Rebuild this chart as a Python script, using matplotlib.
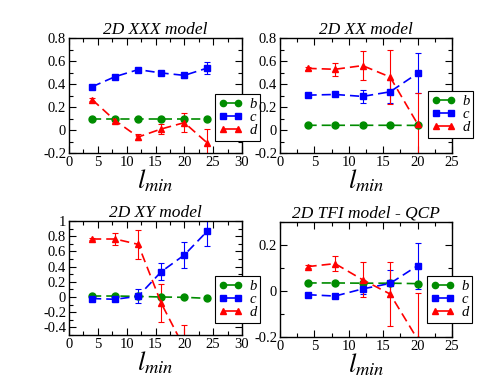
import matplotlib
matplotlib.use("Agg")
import matplotlib.pyplot as plt
from matplotlib.lines import Line2D
from matplotlib.ticker import MultipleLocator, FuncFormatter

plt.rcParams['font.family'] = ['Liberation Serif', 'DejaVu Serif']
plt.rcParams['mathtext.fontset'] = 'stix'
plt.rcParams['axes.unicode_minus'] = False

# ---------------- data ----------------
x_xxx = [4, 8, 12, 16, 20, 24]
b_xxx = [0.10, 0.10, 0.10, 0.10, 0.10, 0.10]
b_xxx_err = [0.003, 0.003, 0.003, 0.003, 0.003, 0.003]
c_xxx = [0.376, 0.464, 0.525, 0.496, 0.475, 0.539]
c_xxx_err = [0.008, 0.012, 0.012, 0.012, 0.022, 0.05]
d_xxx = [0.265, 0.082, -0.061, 0.009, 0.064, -0.114]
d_xxx_err = [0.01, 0.022, 0.022, 0.04, 0.085, 0.12]

x_xx = [4, 8, 12, 16, 20]
b_xx = [0.041, 0.041, 0.041, 0.041, 0.040]
b_xx_err = [0.003, 0.003, 0.003, 0.003, 0.003]
c_xx = [0.303, 0.309, 0.292, 0.332, 0.493]
c_xx_err = [0.008, 0.012, 0.06, 0.10, 0.175]
d_xx = [0.536, 0.528, 0.56, 0.461, 0.052]
d_xx_err = [0.01, 0.055, 0.125, 0.235, 0.27]

x_xy = [4, 8, 12, 16, 20, 24]
b_xy = [0.013, 0.013, 0.008, 0.0, -0.004, -0.018]
b_xy_err = [0.004, 0.004, 0.004, 0.004, 0.004, 0.004]
c_xy = [-0.02, -0.03, 0.01, 0.333, 0.553, 0.868]
c_xy_err = [0.01, 0.02, 0.09, 0.11, 0.175, 0.2]
x_xy_d = [4, 8, 12, 16, 20]
d_xy = [0.763, 0.763, 0.693, -0.083, -0.67]
d_xy_err = [0.01, 0.075, 0.19, 0.25, 0.3]

x_tfi = [4, 8, 12, 16, 20]
b_tfi = [0.035, 0.035, 0.034, 0.034, 0.032]
b_tfi_err = [0.002, 0.002, 0.002, 0.002, 0.002]
c_tfi = [-0.016, -0.022, 0.009, 0.033, 0.11]
c_tfi_err = [0.004, 0.008, 0.02, 0.06, 0.1]
d_tfi = [0.106, 0.119, 0.049, -0.013, -0.21]
d_tfi_err = [0.008, 0.032, 0.075, 0.14, 0.2]

titles = ["2D XXX model", "2D XX model", "2D XY model", "2D TFI model - QCP"]
labels = ["b", "c", "d"]

GREEN = (0.0, 0.55, 0.0)
BLUE = (0.0, 0.0, 1.0)
RED = (1.0, 0.0, 0.0)
colors = [GREEN, BLUE, RED]
markers = ["o", "s", "^"]

W, H = 491, 379
fig = plt.figure(figsize=(W / 100, H / 100), dpi=100)


def rect(l, t, r, b):
    return [l / W, 1 - b / H, (r - l) / W, (b - t) / H]


axes_px = [(69, 38, 242, 153), (280, 38, 452, 153),
           (69, 221, 242, 335), (280, 222, 452, 337)]
legend_px = [(215, 94), (428, 91), (215, 276), (427, 276)]
xlims = [(0, 30), (0, 25), (0, 30), (0, 25)]
ylims = [(-0.2, 0.8), (-0.2, 0.8), (-0.5, 1.0), (-0.2, 0.3)]

panels = [
    [(x_xxx, b_xxx, b_xxx_err), (x_xxx, c_xxx, c_xxx_err), (x_xxx, d_xxx, d_xxx_err)],
    [(x_xx, b_xx, b_xx_err), (x_xx, c_xx, c_xx_err), (x_xx, d_xx, d_xx_err)],
    [(x_xy, b_xy, b_xy_err), (x_xy, c_xy, c_xy_err), (x_xy_d, d_xy, d_xy_err)],
    [(x_tfi, b_tfi, b_tfi_err), (x_tfi, c_tfi, c_tfi_err), (x_tfi, d_tfi, d_tfi_err)],
]

fmt = FuncFormatter(lambda v, p: "%g" % round(v, 6))

for i in range(4):
    ax = fig.add_axes(rect(*axes_px[i]))
    for (xs, ys, es), col, mk in zip(panels[i], colors, markers):
        ax.errorbar(xs, ys, yerr=es, color=col, marker=mk, markersize=5,
                    linestyle=(0, (5.5, 3)), linewidth=1.2, elinewidth=0.8,
                    capsize=2.2, capthick=0.8, clip_on=True)
    ax.set_xlim(*xlims[i])
    ax.set_ylim(*ylims[i])
    ax.xaxis.set_major_locator(MultipleLocator(5))
    ax.xaxis.set_minor_locator(MultipleLocator(2.5))
    ax.yaxis.set_major_locator(MultipleLocator(0.2))
    ax.yaxis.set_minor_locator(MultipleLocator(0.1))
    ax.yaxis.set_major_formatter(fmt)
    ax.xaxis.set_major_formatter(fmt)
    ax.tick_params(which='both', direction='in', top=True, right=True,
                   labelsize=10.5, pad=2)
    ax.tick_params(which='major', length=5, width=0.8)
    ax.tick_params(which='minor', length=3, width=0.8)
    for s in ax.spines.values():
        s.set_linewidth(1.0)
    ax.set_title(titles[i], fontsize=12.5, style='italic', pad=3)
    ax.set_xlabel(r"$l_{min}$", fontsize=19, labelpad=-1)

    handles = [Line2D([], [], color=c, marker=m, markersize=4.5, linestyle='-',
                      linewidth=1.2) for c, m in zip(colors, markers)]
    lx, ly = legend_px[i]
    leg = ax.legend(handles, labels, loc='upper left',
                    bbox_to_anchor=(lx / W, 1 - ly / H),
                    bbox_transform=fig.transFigure, numpoints=2,
                    handlelength=1.6, handletextpad=0.5, borderpad=0.25,
                    labelspacing=0.0, borderaxespad=0, fancybox=False,
                    framealpha=1, edgecolor='black',
                    prop={'style': 'italic', 'size': 10.5})
    leg.get_frame().set_linewidth(0.8)
    leg.set_zorder(10)

fig.savefig("out.png", dpi=100)
